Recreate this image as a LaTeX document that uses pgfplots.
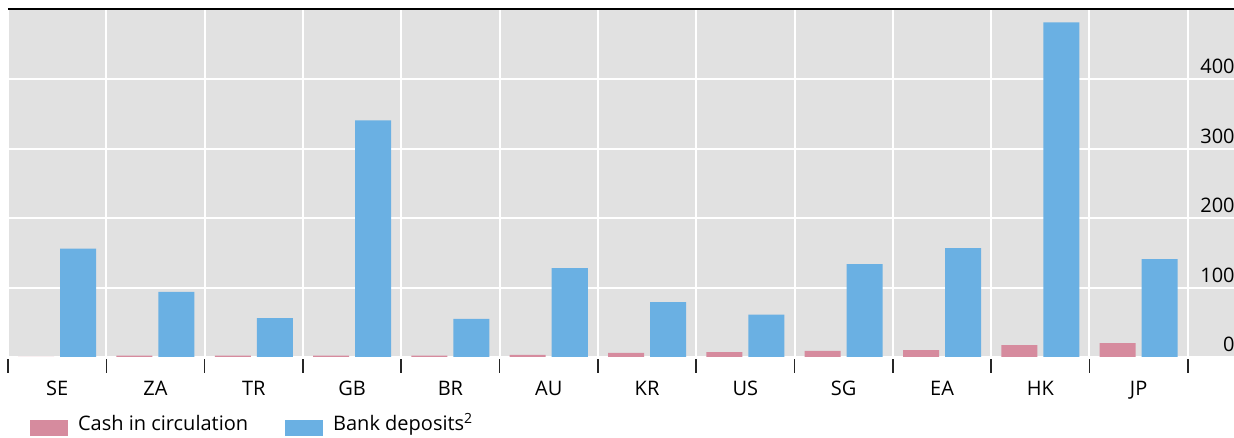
\documentclass[border=0pt]{standalone}
\usepackage{pgfplots}
\pgfplotsset{compat=1.18}
\usepackage{fontspec}
\setmainfont{Open Sans}
\definecolor{cashc}{RGB}{214,139,158}
\definecolor{depc}{RGB}{106,176,227}
\definecolor{bggrey}{RGB}{225,225,225}
\begin{document}
\begin{tikzpicture}
\path[use as bounding box, clip] (0,0) rectangle (617pt,219pt);
\begin{axis}[
  at={(4pt,40.5pt)}, anchor=south west,
  width=613pt, height=173.5pt, scale only axis,
  xmin=-0.5, xmax=11.97, ymin=0, ymax=500,
  clip=false,
  axis background/.style={fill=bggrey},
  axis line style={draw=none},
  ybar=3pt, bar width=18pt,
  font=\fontsize{10}{12}\selectfont,
  /pgf/number format/assume math mode=true,
  xtick={0,...,11},
  xticklabels={SE,ZA,TR,GB,BR,AU,KR,US,SG,EA,HK,JP},
  minor xtick={-0.5,0.5,...,11.5},
  xtick pos=bottom,
  tick align=outside,
  major tick length=0pt,
  minor tick length=7pt,
  minor x tick style={black!85, line width=0.8pt, yshift=-1pt},
  xminorgrids=true,
  minor x grid style={white, line width=1pt},
  ytick={0,100,200,300,400},
  ytick pos=right,
  yticklabel pos=right,
  ytick style={draw=none},
  ymajorgrids=true,
  major y grid style={white, line width=1pt},
  xticklabel style={anchor=north, inner sep=0pt, yshift=-12pt},
  yticklabel style={anchor=south east, inner sep=0pt, xshift=0.5pt, yshift=2.5pt, overlay},
  legend columns=2,
  legend image code/.code={\fill (0pt,-2.5pt) rectangle (19pt,5.5pt);},
  legend style={at={(0.018,-0.163)}, anchor=north west, draw=none, fill=none,
    inner sep=0pt, outer sep=0pt, font=\fontsize{10}{12}\selectfont,
    /tikz/every even column/.append style={column sep=18.5pt},
    nodes={inner sep=0pt, anchor=base west}},
]
\addplot[fill=cashc, draw=none] coordinates {
(0,0) (1,2) (2,2) (3,2) (4,2) (5,3) (6,6) (7,7) (8,9) (9,10) (10,17) (11,20)};
\addlegendentry{\hspace{5pt}Cash in circulation}
\addplot[fill=depc, draw=none] coordinates {
(0,156) (1,94) (2,56) (3,341) (4,55) (5,128) (6,79) (7,61) (8,134) (9,157) (10,482) (11,141)};
\addlegendentry{\hspace{5pt}Bank deposits\textsuperscript{2}}
\draw[black, line width=1pt] ([yshift=0.5pt]rel axis cs:0,1) -- ([yshift=0.5pt]rel axis cs:1,1);
\end{axis}
\end{tikzpicture}
\end{document}
